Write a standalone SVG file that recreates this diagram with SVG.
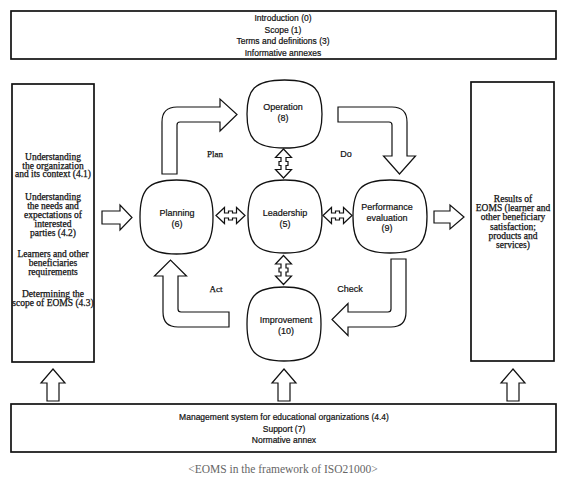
<svg xmlns="http://www.w3.org/2000/svg" xmlns:xlink="http://www.w3.org/1999/xlink" width="570" height="500" viewBox="0 0 570 500">
<style>
.box{fill:#fff;stroke:#111;stroke-width:1.7}
.node{fill:#fff;stroke:#111;stroke-width:1.3}
.arr{fill:#fff;stroke:#111;stroke-width:1.2;stroke-linejoin:miter}
.sans{font-family:"Liberation Sans",Arial,sans-serif;fill:#111;stroke:#111;stroke-width:0.2;text-anchor:middle}
.serif{font-family:"Liberation Serif","Times New Roman",serif;fill:#111;stroke:#111;stroke-width:0.25;text-anchor:middle}
.s85{font-size:8.5px}
.s9{font-size:9px}
.s95{font-size:9.5px}
.cap{font-family:"Liberation Serif","Times New Roman",serif;font-size:11.5px;fill:#666;text-anchor:middle}
</style>
<defs>
<path id="dbl" d="M-14.5,0 L-6,-8 L-6,-2.5 L-2,-2.5 L-2,-4.5 L2,-4.5 L2,-2.5 L6,-2.5 L6,-8 L14.5,0 L6,8 L6,2.5 L2,2.5 L2,4.5 L-2,4.5 L-2,2.5 L-6,2.5 L-6,8 Z"/>
<path id="up" d="M0,0 L12,14 L6,14 L6,32 L-6,32 L-6,14 L-12,14 Z"/>
</defs>
<rect width="570" height="500" fill="#fff"/>

<g id="top-box">
<rect class="box" x="11" y="11" width="545" height="48"/>
<text class="sans s85" x="283" y="21">Introduction (0)</text>
<text class="sans s85" x="283" y="32.5">Scope (1)</text>
<text class="sans s85" x="283" y="44">Terms and definitions (3)</text>
<text class="sans s85" x="283" y="55.5">Informative annexes</text>
</g>

<g id="context-box">
<rect class="box" x="12" y="84" width="82" height="278"/>
<g class="serif s95">
<text x="53" y="160">Understanding</text>
<text x="53" y="168.5">the organization</text>
<text x="53" y="177">and its context (4.1)</text>
<text x="53" y="200">Understanding</text>
<text x="53" y="209">the needs and</text>
<text x="53" y="218">expectations of</text>
<text x="53" y="227">interested</text>
<text x="53" y="236">parties (4.2)</text>
<text x="53" y="257">Learners and other</text>
<text x="53" y="266">beneficiaries</text>
<text x="53" y="275">requirements</text>
<text x="53" y="296.5">Determining the</text>
<text x="53" y="306">scope of EOMS (4.3)</text>
</g>
</g>

<g id="results-box">
<rect class="box" x="471" y="82" width="83" height="279"/>
<g class="serif s95">
<text x="513" y="202">Results of</text>
<text x="513" y="211">EOMS (learner and</text>
<text x="513" y="220">other beneficiary</text>
<text x="513" y="229.5">satisfaction;</text>
<text x="513" y="238.5">products and</text>
<text x="513" y="247.5">services)</text>
</g>
</g>

<g id="bottom-box">
<rect class="box" x="11" y="404" width="545" height="48"/>
<text class="sans s85" x="284" y="420">Management system for educational organizations (4.4)</text>
<text class="sans s85" x="284" y="431.5">Support (7)</text>
<text class="sans s85" x="284" y="443">Normative annex</text>
</g>

<g id="operation">
<path class="node" d="M284.5,80 C315.25,80 322,90.2 322,114 C322,137.8 315.25,148 284.5,148 C253.75,148 247,137.8 247,114 C247,90.2 253.75,80 284.5,80Z"/>
<text class="sans s9" x="283" y="110">Operation</text>
<text class="sans s9" x="283" y="120.5">(8)</text>
</g>

<g id="leadership">
<path class="node" d="M285,180 C315.3,180 322,190.95 322,216.5 C322,242.05 315.3,253 285,253 C254.7,253 248,242.05 248,216.5 C248,190.95 254.7,180 285,180Z"/>
<text class="sans s9" x="285" y="216">Leadership</text>
<text class="sans s9" x="285" y="226.5">(5)</text>
</g>

<g id="planning">
<path class="node" d="M176.5,180 C206.4,180 213,191.1 213,217 C213,242.9 206.4,254 176.5,254 C146.6,254 140,242.9 140,217 C140,191.1 146.6,180 176.5,180Z"/>
<text class="sans s9" x="177" y="216">Planning</text>
<text class="sans s9" x="177" y="226.5">(6)</text>
</g>

<g id="performance">
<path class="node" d="M390,180 C420.3,180 427,190.95 427,216.5 C427,242.05 420.3,253 390,253 C359.7,253 353,242.05 353,216.5 C353,190.95 359.7,180 390,180Z"/>
<text class="sans s9" x="387" y="210">Performance</text>
<text class="sans s9" x="387" y="220.5">evaluation</text>
<text class="sans s9" x="387" y="231">(9)</text>
</g>

<g id="improvement">
<path class="node" d="M284,287 C314.3,287 321,298.1 321,324 C321,349.9 314.3,361 284,361 C253.7,361 247,349.9 247,324 C247,298.1 253.7,287 284,287Z"/>
<text class="sans s9" x="286" y="323">Improvement</text>
<text class="sans s9" x="286" y="333.5">(10)</text>
</g>

<g id="connectors">
<path class="arr" d="M162,174 L162,122 Q162,107 177,107 L220,107 L220,99 L237,114.5 L220,131 L220,122 L180,122 Q177,122 177,125 L177,174 Z"/>
<path class="arr" d="M338,107 L392,107 Q407,107 407,122 L407,156 L415.5,156 L399.5,174 L383.5,156 L392,156 L392,125 Q392,122 389,122 L338,122 Z"/>
<path class="arr" d="M391,259 L406,259 L406,312 Q406,327 391,327 L348,327 L348,335.5 L332,319.5 L348,303.5 L348,312 L388,312 Q391,312 391,309 Z"/>
<path class="arr" d="M229,312 L229,327 L178,327 Q163,327 163,312 L163,276 L154.5,276 L170.5,260 L186.5,276 L178,276 L178,309 Q178,312 181,312 Z"/>
<path class="arr" d="M102,211 L120,211 L120,205 L132,217.5 L120,230 L120,224 L102,224 Z"/>
<path class="arr" d="M434,211 L450,211 L450,205 L464,217 L450,229 L450,223 L434,223 Z"/>
<use class="arr" xlink:href="#dbl" transform="translate(230.5,215.5)"/>
<use class="arr" xlink:href="#dbl" transform="translate(337.5,215.5)"/>
<use class="arr" xlink:href="#dbl" transform="translate(283.5,163.5) rotate(90)"/>
<use class="arr" xlink:href="#dbl" transform="translate(283.5,270) rotate(90)"/>
<use class="arr" xlink:href="#up" transform="translate(53,369)"/>
<use class="arr" xlink:href="#up" transform="translate(284,369)"/>
<use class="arr" xlink:href="#up" transform="translate(513,369)"/>
</g>

<g id="labels">
<text class="serif s9" x="215" y="157">Plan</text>
<text class="sans s9" x="346" y="157">Do</text>
<text class="serif s9" x="216" y="291.5">Act</text>
<text class="sans s9" x="350" y="291.5">Check</text>
</g>

<text class="cap" x="283" y="473">&lt;EOMS in the framework of ISO21000&gt;</text>
</svg>
